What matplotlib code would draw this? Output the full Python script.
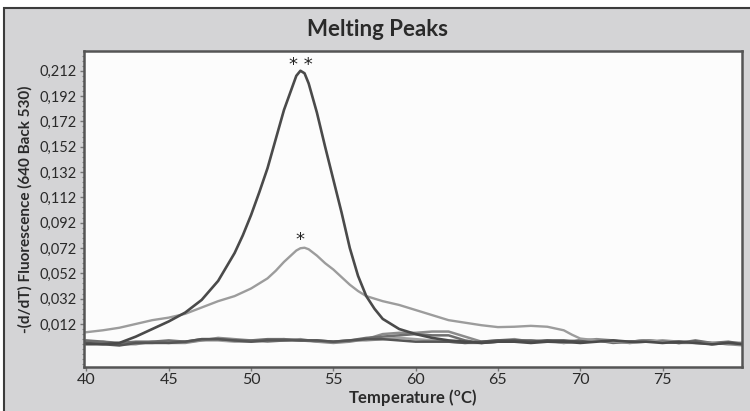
"""Melting peaks (-dF/dT vs temperature) redrawn from the reference figure."""

import matplotlib
matplotlib.use("Agg")
import matplotlib.pyplot as plt
from matplotlib.patches import Rectangle
from matplotlib.ticker import FixedLocator, FuncFormatter, MultipleLocator

# -- data ---------------------------------------------------------------------
temp_1c = list(range(40, 81))

# strong peak (**), Tm ~ 53 C
peak_hi_t = [40, 41, 42, 43, 44, 45, 46, 47, 48, 49, 49.5, 50, 50.5, 51, 51.5, 52, 52.5,
             52.75, 53, 53.25, 53.5, 54, 54.5, 55, 55.5, 56, 56.5, 57, 57.5, 58, 59, 60, 61,
             62, 63, 64, 65, 66, 67, 68, 69, 70, 71, 72, 73, 74, 75, 76, 77, 78, 79, 80]
peak_hi_v = [-0.004, -0.004, -0.003, 0.002, 0.008, 0.014, 0.021, 0.031, 0.046, 0.068, 0.082,
             0.098, 0.116, 0.135, 0.158, 0.181, 0.199, 0.208, 0.212, 0.210, 0.202, 0.179,
             0.152, 0.126, 0.100, 0.072, 0.050, 0.034, 0.024, 0.016, 0.008, 0.004, 0.001,
             -0.001, -0.002, -0.003, -0.002, -0.002, -0.003, -0.002, -0.002, -0.003, -0.002,
             -0.001, -0.002, -0.002, -0.003, -0.002, -0.003, -0.004, -0.003, -0.004]

# weak peak (*), Tm ~ 53 C
peak_lo_t = [40, 41, 42, 43, 44, 45, 46, 47, 48, 49, 49.5, 50, 50.5, 51, 51.5, 52, 52.5, 52.75,
             53, 53.25, 53.5, 54, 54.5, 55, 55.5, 56, 56.5, 57, 58, 59, 60, 61, 62, 63, 64,
             65, 66, 67, 68, 69, 69.5, 70, 71, 72, 73, 74, 75, 76, 77, 78, 79, 80]
peak_lo_v = [0.0055, 0.007, 0.009, 0.012, 0.015, 0.017, 0.020, 0.025, 0.030, 0.034, 0.037,
             0.040, 0.044, 0.048, 0.054, 0.061, 0.067, 0.070, 0.0718, 0.0722, 0.071, 0.066,
             0.060, 0.055, 0.049, 0.043, 0.038, 0.034, 0.030, 0.027, 0.023, 0.019, 0.015,
             0.013, 0.011, 0.0095, 0.0098, 0.0105, 0.0098, 0.007, 0.0035, 0.0005, -0.001,
             -0.002, -0.002, -0.001, -0.002, -0.002, -0.003, -0.003, -0.004, -0.003]

# flat negative samples
base_a = [-0.003, -0.004, -0.005, -0.003, -0.003, -0.003, -0.002, 0.000, 0.000, -0.001, -0.002,
          -0.001, -0.001, -0.001, -0.001, -0.002, -0.001, 0.000, 0.000, -0.001, -0.002, -0.002,
          -0.002, -0.003, -0.002, -0.001, -0.001, -0.002, -0.001, -0.001, -0.002, -0.001,
          -0.002, -0.002, -0.001, -0.002, -0.003, -0.002, -0.004, -0.003, -0.003]
base_b = [-0.002, -0.003, -0.004, -0.004, -0.002, -0.003, -0.003, -0.001, 0.001, 0.000, -0.001,
          -0.002, -0.001, 0.000, -0.002, -0.003, -0.002, 0.000, 0.004, 0.005, 0.005, 0.006,
          0.006, 0.002, -0.002, -0.001, 0.000, -0.002, -0.001, -0.003, -0.001, 0.000, -0.001,
          -0.003, -0.002, -0.001, -0.002, -0.002, -0.003, -0.004, -0.005]
base_c = [-0.001, -0.002, -0.003, -0.002, -0.002, -0.001, -0.002, 0.000, 0.000, -0.001, -0.001,
          0.000, 0.000, -0.001, -0.001, -0.002, -0.001, 0.001, 0.002, 0.003, 0.004, 0.003,
          0.003, -0.001, -0.003, -0.002, -0.001, -0.001, -0.002, -0.002, -0.001, -0.001,
          -0.003, -0.002, -0.001, -0.002, -0.003, -0.001, -0.003, -0.002, -0.004]
base_d = [-0.003, -0.002, -0.004, -0.003, -0.003, -0.002, -0.002, -0.001, -0.001, -0.002, -0.002,
          -0.001, 0.000, -0.001, -0.002, -0.002, -0.001, -0.001, 0.000, 0.001, 0.000, -0.001,
          -0.002, -0.003, -0.003, -0.002, -0.001, -0.001, -0.002, -0.003, -0.002, -0.001,
          -0.002, -0.003, -0.002, -0.002, -0.003, -0.003, -0.004, -0.003, -0.004]

y_ticks = [0.012, 0.032, 0.052, 0.072, 0.092, 0.112, 0.132, 0.152, 0.172, 0.192, 0.212]
x_ticks = [40, 45, 50, 55, 60, 65, 70, 75]

# -- figure ---------------------------------------------------------------------
plt.rcParams["font.family"] = ["Lato", "DejaVu Sans"]

fig = plt.figure(figsize=(7.5, 4.11), dpi=100, facecolor="white")
panel_bg = "#d4d4d6"
fig.patches.append(Rectangle((4 / 750, -0.01), 1.0, 1 - 8 / 411 + 0.01,
                             transform=fig.transFigure, facecolor=panel_bg,
                             edgecolor="#3c3c3c", linewidth=1.5, zorder=-10))
fig.text(377 / 750, 1 - 30 / 411, "Melting Peaks", ha="center", va="center",
         fontsize=16, fontweight="bold", color="#2a2a2a")

ax = fig.add_axes([84 / 750, 1 - 367 / 411, 658 / 750, 316 / 411])
ax.set_facecolor("#fcfcfc")

for vals, col in [(base_d, "#a2a2a2"), (base_b, "#8c8c8c"), (base_c, "#6e6e6e"), (base_a, "#555555")]:
    ax.plot(temp_1c, vals, color=col, lw=1.8, solid_joinstyle="round")
ax.plot(peak_lo_t, peak_lo_v, color="#9c9c9c", lw=1.7, solid_joinstyle="round")
ax.plot(peak_hi_t, peak_hi_v, color="#4a4a4a", lw=1.9, solid_joinstyle="round")

ax.text(53, 0.2165, "* *", ha="center", va="center", fontsize=13, color="#222222",
        family="DejaVu Sans")
ax.text(53, 0.0785, "*", ha="center", va="center", fontsize=13, color="#222222",
        family="DejaVu Sans")

ax.set_xlim(39.85, 79.83)
ax.set_ylim(-0.022, 0.2276)
ax.xaxis.set_major_locator(FixedLocator(x_ticks))
ax.yaxis.set_major_locator(FixedLocator(y_ticks))
ax.yaxis.set_minor_locator(MultipleLocator(0.004))
ax.yaxis.set_major_formatter(FuncFormatter(lambda v, _: f"{v:.3f}".replace(".", ",")))
ax.tick_params(axis="both", which="major", length=3, width=1, color="#777777",
               labelcolor="#2a2a2a", pad=2)
ax.tick_params(axis="y", labelsize=10.5)
ax.tick_params(axis="x", labelsize=11.5, pad=1)
ax.tick_params(axis="y", which="minor", length=1.5, width=0.8, color="#888888")
for side in ax.spines.values():
    side.set_color("#555555")
    side.set_linewidth(1.8)

ax.set_ylabel("-(d/dT) Fluorescence (640 Back 530)", fontsize=11, fontweight="bold",
              color="#2a2a2a", labelpad=5)
ax.set_xlabel(r"Temperature ($\mathregular{^o}$C)", fontsize=12, fontweight="bold",
              color="#2a2a2a", labelpad=0)

fig.savefig("out.png", dpi=100, facecolor=fig.get_facecolor())
